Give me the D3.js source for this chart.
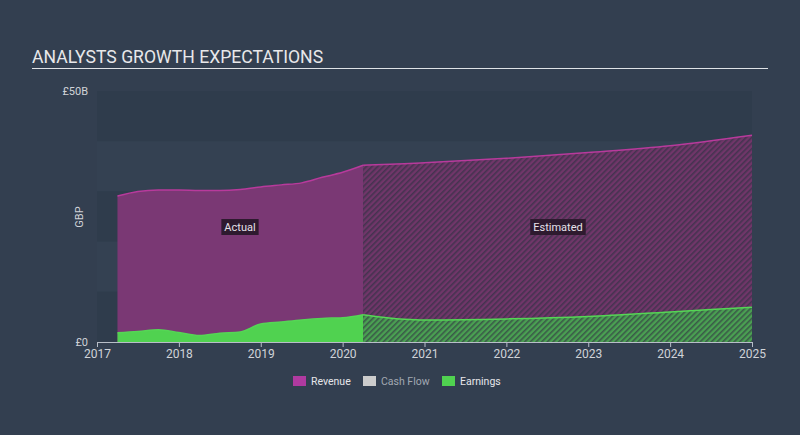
<!DOCTYPE html>
<html><head><meta charset="utf-8">
<script src="https://cdn.jsdelivr.net/npm/d3@7"></script>
<style>
html,body{margin:0;padding:0;background:#333f50;}
svg{display:block;font-family:Roboto,"Noto Sans",sans-serif;}
</style></head>
<body>
<svg id="c" width="800" height="435"></svg>
<script>
// ---- data ----
const actualDates = [2017.25,2017.5,2017.75,2018.0,2018.25,2018.5,2018.75,2019.0,2019.25,2019.5,2019.75,2020.0,2020.25];
const actualRevenue = [29.1,30.0,30.3,30.3,30.2,30.2,30.4,30.9,31.3,31.7,32.8,33.8,35.2];
const actualEarnings = [1.85,2.1,2.45,1.9,1.3,1.75,2.0,3.6,4.0,4.4,4.7,4.85,5.45];
const estDates = [2020.25,2020.75,2021,2022,2023,2024,2025];
const estRevenue = [35.2,35.5,35.7,36.6,37.75,39.1,41.2];
const estEarnings = [5.45,4.55,4.4,4.6,5.1,6.0,6.9];
const yTicks = [0,50];
const yTickLabels = ["£0","£50B"];
const xTicks = [2017,2018,2019,2020,2021,2022,2023,2024,2025];
const legendItems = ["Revenue","Cash Flow","Earnings"];

const svg = d3.select("#c");
const x = d3.scaleLinear().domain([2017,2025]).range([97,752]);
const y = d3.scaleLinear().domain([0,50]).range([342,91]);

// patterns
const defs = svg.append("defs");
function hatch(id, bg, stripe){
  const p = defs.append("pattern").attr("id",id).attr("patternUnits","userSpaceOnUse")
    .attr("width",4).attr("height",4).attr("patternTransform","rotate(45)");
  p.append("rect").attr("width",4).attr("height",4).attr("fill",bg);
  p.append("rect").attr("width",1.6).attr("height",4).attr("fill",stripe);
}
hatch("hRev","#703669","#453350");
hatch("hEarn","#4aa052","#3a5a48");

// title
svg.append("text").attr("x",32).attr("y",63).attr("fill","#e8e8ea").attr("font-size",17.6)
  .text("ANALYSTS GROWTH EXPECTATIONS");
svg.append("line").attr("x1",32).attr("x2",768).attr("y1",68.5).attr("y2",68.5)
  .attr("stroke","#dfe2e6").attr("stroke-width",1);

// bands
for(let i=0;i<5;i++){
  svg.append("rect").attr("x",x(2017)).attr("width",x(2025)-x(2017))
    .attr("y",y(50-i*10)).attr("height",y(40-i*10)-y(50-i*10))
    .attr("fill", i%2===0 ? "#2f3c4c" : "#344152");
}

const toPts = (ds,vs)=>ds.map((d,i)=>[d,vs[i]]);
const area = d3.area().x(d=>x(d[0])).y0(y(0)).y1(d=>y(d[1])).curve(d3.curveMonotoneX);
const line = d3.line().x(d=>x(d[0])).y(d=>y(d[1])).curve(d3.curveMonotoneX);

const aRev = toPts(actualDates,actualRevenue), aEarn = toPts(actualDates,actualEarnings);
const eRev = toPts(estDates,estRevenue), eEarn = toPts(estDates,estEarnings);

svg.append("path").attr("d",area(aRev)).attr("fill","#7a3874");
svg.append("path").attr("d",area(eRev)).attr("fill","url(#hRev)");
svg.append("path").attr("d",line(aRev)).attr("fill","none").attr("stroke","#b83a9c").attr("stroke-width",1.5);
svg.append("path").attr("d",line(eRev)).attr("fill","none").attr("stroke","#b83a9c").attr("stroke-width",1.5);

svg.append("path").attr("d",area(aEarn)).attr("fill","#50d250");
svg.append("path").attr("d",area(eEarn)).attr("fill","url(#hEarn)");
svg.append("path").attr("d",line(aEarn)).attr("fill","none").attr("stroke","#55d655").attr("stroke-width",1.5);
svg.append("path").attr("d",line(eEarn)).attr("fill","none").attr("stroke","#55d655").attr("stroke-width",1.5);

// y labels
yTicks.forEach((t,i)=>{
  svg.append("text").attr("x",88).attr("y",y(t)).attr("dy","0.35em").attr("text-anchor","end")
    .attr("fill","#d0d3d8").attr("font-size",11).text(yTickLabels[i]);
});
svg.append("text").attr("transform","translate(83,217) rotate(-90)").attr("text-anchor","middle")
  .attr("fill","#d0d3d8").attr("font-size",11).text("GBP");

// x axis
const xAxis = d3.axisBottom(x).tickValues(xTicks).tickFormat(d3.format("d")).tickSize(6).tickSizeOuter(0);
const gx = svg.append("g").attr("transform",`translate(0,${y(0)})`).call(xAxis);
gx.select(".domain").attr("stroke","#b8bec8");
gx.selectAll(".tick line").attr("stroke","#b8bec8").attr("y1",0).attr("y2",5);
gx.selectAll(".tick text").attr("fill","#d0d3d8").attr("font-size",12).attr("y",7)
  .attr("font-family","Roboto,'Noto Sans',sans-serif");

// Actual / Estimated labels
function tag(cx,label){
  const t = svg.append("text").attr("x",cx).attr("y",227).attr("dy","0.35em").attr("text-anchor","middle")
    .attr("fill","#e6e2ea").attr("font-size",11).text(label);
  const bb = t.node().getBBox();
  svg.insert("rect", () => t.node()).attr("x",bb.x-3).attr("y",219).attr("width",bb.width+6).attr("height",16)
    .attr("fill","#2e1a2f");
}
tag(240,"Actual");
tag(558,"Estimated");

// legend
const legColors = ["#b03aa0","#cccccc","#50d250"];
const legX = [293,363,442];
const legText = ["#e6e6ea","#a2a8b2","#e6e6ea"];
legendItems.forEach((l,i)=>{
  svg.append("rect").attr("x",legX[i]).attr("y",376).attr("width",13).attr("height",10).attr("fill",legColors[i]);
  svg.append("text").attr("x",legX[i]+18).attr("y",381).attr("dy","0.35em").attr("fill",legText[i])
    .attr("font-size",10.5).text(l);
});
</script>
</body></html>
